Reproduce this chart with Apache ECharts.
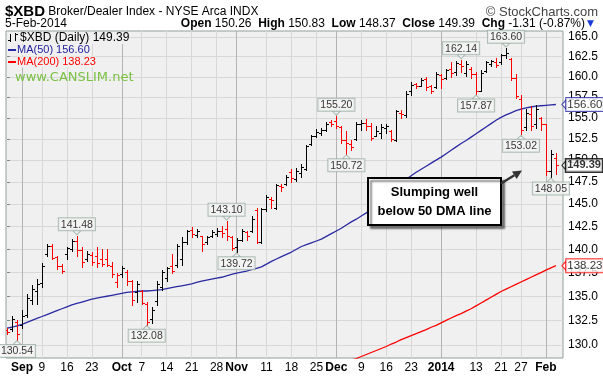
<!DOCTYPE html>
<html>
<head>
<meta charset="utf-8">
<script src="https://cdn.jsdelivr.net/npm/echarts@6/dist/echarts.min.js"></script>
<style>
  html, body { margin: 0; padding: 0; background: #fff; }
  #chart { width: 603px; height: 378px; }
</style>
</head>
<body>
<div id="chart"></div>
<script>
// daily OHLC, 28-Aug-2013 .. 5-Feb-2014 (one entry per trading day)
const opens = [
  131.5, 131.6, 132.3, 132.0, 133.1, 134.6, 135.6, 136.4, 139.5, 140.4,
  139.2, 138.2, 139.5, 140.0, 140.9, 139.9, 138.9, 139.4, 139.3, 139.0,
  139.0, 138.2, 136.5, 137.3, 137.6, 136.6, 135.4, 135.6, 134.2, 132.6,
  134.5, 136.0, 136.9, 138.2, 138.3, 139.0, 140.8, 142.1, 141.6, 141.4,
  140.8, 141.4, 141.7, 142.0, 142.2, 141.3, 140.2, 141.0, 141.9, 142.0,
  144.3, 140.8, 144.4, 145.6, 144.6, 147.0, 147.2, 148.6, 147.8, 148.5,
  149.0, 151.9, 152.8, 153.2, 153.6, 154.5, 154.6, 153.9, 152.3, 151.9,
  152.5, 154.3, 154.4, 154.0, 152.8, 153.2, 153.8, 153.4, 152.4, 155.6,
  155.3, 158.2, 159.1, 158.9, 159.7, 158.8, 158.7, 160.2, 159.8, 161.0,
  160.6, 161.6, 160.5, 161.0, 160.4, 158.3, 160.7, 161.6, 161.9, 161.8,
  162.7, 162.2, 159.8, 157.3, 153.9, 155.4, 154.2, 155.0, 154.2, 148.7,
  150.26
];
const highs = [
  131.7, 133.0, 132.5, 133.6, 135.2, 136.2, 136.8, 138.5, 140.6, 140.6,
  139.3, 138.4, 140.3, 141.1, 141.48, 140.3, 139.8, 139.7, 140.2, 140.0,
  140.0, 138.6, 137.5, 138.2, 137.8, 136.7, 136.6, 135.7, 134.4, 133.9,
  136.6, 137.8, 138.1, 139.5, 140.6, 141.3, 142.1, 142.4, 142.2, 141.5,
  141.5, 142.1, 142.3, 142.5, 143.10, 141.5, 141.2, 142.2, 142.0, 143.6,
  144.6, 144.6, 146.0, 145.8, 147.3, 147.3, 148.3, 149.0, 149.1, 149.6,
  151.8, 152.9, 153.7, 153.8, 154.5, 154.7, 155.20, 154.0, 153.4, 152.4,
  154.5, 154.7, 154.9, 154.4, 154.0, 154.3, 154.2, 153.5, 155.9, 155.9,
  158.2, 159.4, 159.2, 159.8, 160.0, 159.0, 160.6, 160.4, 161.0, 161.9,
  162.0, 162.14, 162.0, 161.2, 160.6, 160.8, 162.0, 162.1, 162.3, 162.9,
  163.60, 162.4, 160.4, 157.7, 156.0, 156.4, 156.5, 155.1, 154.3, 151.2,
  150.83
];
const lows = [
  131.1, 131.4, 130.54, 131.7, 132.8, 134.2, 134.2, 136.0, 139.3, 138.9,
  137.9, 137.4, 139.0, 139.8, 139.3, 138.1, 138.7, 138.3, 138.1, 138.2,
  138.2, 137.0, 136.0, 137.0, 136.2, 134.1, 134.4, 134.2, 132.08, 132.2,
  134.1, 135.7, 136.6, 137.4, 138.1, 138.3, 140.6, 141.3, 141.3, 139.8,
  140.6, 141.3, 141.5, 141.3, 141.0, 139.9, 139.72, 140.9, 141.0, 141.9,
  140.7, 140.7, 144.2, 144.5, 144.4, 146.5, 147.1, 147.5, 147.6, 148.0,
  148.9, 151.8, 152.7, 152.9, 153.4, 154.0, 153.8, 152.0, 150.72, 151.2,
  152.4, 153.5, 153.5, 152.4, 152.8, 152.6, 153.2, 152.2, 152.2, 155.0,
  155.1, 157.8, 158.6, 158.8, 158.4, 158.0, 158.6, 158.6, 159.7, 160.0,
  160.2, 160.6, 160.1, 159.9, 157.87, 158.2, 160.6, 161.3, 161.2, 161.6,
  162.3, 159.6, 157.4, 153.02, 153.6, 153.6, 153.8, 153.5, 148.3, 148.05,
  148.37
];
const closes = [
  131.3, 132.6, 131.1, 133.0, 134.8, 135.8, 136.3, 138.2, 140.4, 139.1,
  138.2, 137.7, 140.1, 140.9, 139.9, 138.6, 139.5, 138.6, 138.5, 138.4,
  138.3, 137.3, 137.2, 138.0, 136.6, 134.6, 136.3, 134.3, 132.3, 133.6,
  136.3, 137.6, 138.0, 137.7, 140.4, 140.8, 142.0, 141.7, 142.0, 140.6,
  141.3, 141.9, 142.0, 141.8, 141.4, 140.1, 141.0, 142.0, 141.5, 143.3,
  140.8, 144.4, 145.8, 145.4, 147.1, 146.9, 148.1, 147.9, 148.7, 149.2,
  151.7, 152.8, 153.3, 153.6, 154.3, 154.2, 154.0, 152.4, 152.0, 151.5,
  154.3, 154.4, 154.0, 152.6, 153.4, 153.9, 154.0, 152.5, 155.8, 155.4,
  157.9, 159.0, 158.9, 159.6, 158.7, 158.3, 160.4, 159.7, 160.8, 160.5,
  161.7, 161.3, 161.6, 160.3, 158.2, 160.5, 161.9, 162.0, 161.5, 162.7,
  163.0, 159.9, 157.6, 153.5, 155.6, 154.0, 156.0, 154.2, 148.8, 150.70,
  149.39
];
// moving averages
const ma50 = [
  131.7, 131.8, 131.95, 132.1, 132.3, 132.5, 132.7, 132.9, 133.1, 133.3,
  133.5, 133.7, 133.9, 134.1, 134.25, 134.4, 134.55, 134.7, 134.8, 134.9,
  135.0, 135.1, 135.2, 135.3, 135.4, 135.45, 135.5, 135.55, 135.55, 135.6,
  135.65, 135.7, 135.8, 135.9, 136.0, 136.1, 136.2, 136.3, 136.45, 136.6,
  136.7, 136.8, 136.9, 137.0, 137.15, 137.3, 137.45, 137.55, 137.65, 137.8,
  137.95, 138.1, 138.4, 138.7, 138.95, 139.2, 139.45, 139.7, 140.0, 140.3,
  140.5, 140.7, 140.9, 141.1, 141.4, 141.7, 142.0, 142.3, 142.65, 143.0,
  143.3, 143.65, 144.0, 144.4, 144.85, 145.3, 145.75, 146.2, 146.7, 147.2,
  147.8, 148.2, 148.6, 148.95, 149.3, 149.65, 150.0, 150.35, 150.75, 151.15,
  151.55, 151.95, 152.3, 152.7, 153.1, 153.5, 153.9, 154.3, 154.7, 155.05,
  155.35, 155.6, 155.85, 156.05, 156.2, 156.3, 156.4, 156.45, 156.5, 156.55,
  156.6
];
const ma200Start = 66; // first trading day where MA(200) is inside the price range
const ma200 = [
  127.9, 128.1, 128.3, 128.5, 128.65, 128.85, 129.05, 129.25, 129.45, 129.65,
  129.85, 130.1, 130.3, 130.55, 130.75, 130.95, 131.15, 131.35, 131.55, 131.8,
  132.0, 132.25, 132.5, 132.75, 133.0, 133.2, 133.45, 133.7, 134.0, 134.3,
  134.6, 134.9, 135.2, 135.5, 135.75, 136.0, 136.25, 136.5, 136.75, 137.0,
  137.25, 137.5, 137.75, 138.0, 138.23
];

// x axis: trading-day index of each labelled gridline and its label
const tickDays = [3, 7, 12, 17, 23, 27, 32, 37, 42, 46, 52, 57, 62, 66, 71, 76, 81, 87, 94, 99, 103, 108];
const tickNames = ['Sep', '9', '16', '23', 'Oct', '7', '14', '21', '28', 'Nov', '11', '18', '25', 'Dec', '9', '16', '23', '2014', '13', '21', '27', 'Feb'];
const monthNames = ['Sep', 'Oct', 'Nov', 'Dec', '2014', 'Feb'];
const priceTicks = [130, 132.5, 135, 137.5, 140, 142.5, 145, 147.5, 150, 152.5, 155, 157.5, 160, 162.5, 165];
const peakDays = [14, 44, 66, 91, 100];
const troughDays = [2, 28, 46, 68, 94, 103, 109];

const FONT = "'Liberation Sans', Arial, sans-serif";
const PLOT_BG = '#f0f0f0';
const lg = Math.log10;  // chart uses a log price scale
const last = closes.length - 1;

const bars = closes.map((c, i) => [
  i, lg(opens[i]), lg(highs[i]), lg(lows[i]), lg(c),
  c < (i ? closes[i - 1] : opens[i]) ? 1 : 0
]);

function renderOhlc(params, api) {
  const i = api.value(0);
  const pO = api.coord([i, api.value(1)]);
  const pH = api.coord([i, api.value(2)]);
  const pL = api.coord([i, api.value(3)]);
  const pC = api.coord([i, api.value(4)]);
  const x = Math.round(pH[0]) + 0.5;
  const yO = Math.round(pO[1]) + 0.5;
  const yC = Math.round(pC[1]) + 0.5;
  const col = api.value(5) ? '#ff0000' : '#000000';
  const st = () => ({ stroke: col, lineWidth: 1 });
  return {
    type: 'group',
    children: [
      { type: 'line', shape: { x1: x, y1: Math.round(pH[1]), x2: x, y2: Math.round(pL[1]) + 1 }, style: st() },
      { type: 'line', shape: { x1: x - 2.5, y1: yO, x2: x, y2: yO }, style: st() },
      { type: 'line', shape: { x1: x, y1: yC, x2: x + 2.5, y2: yC }, style: st() }
    ]
  };
}

const calloutLabel = {
  show: true,
  fontFamily: FONT, fontSize: 10.5, color: '#000',
  backgroundColor: '#f4f5f4', borderColor: '#9fb0a7', borderWidth: 1,
  padding: [1, 2, 0, 2], distance: 0,
  formatter: p => p.value[2].toFixed(2)
};
const calloutItem = { color: '#f4f5f4', borderColor: '#9fb0a7', borderWidth: 1 };

const chg = closes[last] - closes[last - 1];
const pct = chg / closes[last - 1] * 100;

// arrow of the annotation box
const arrowFrom = [501, 183.5], arrowTip = [522, 170.5];
const ax = arrowTip[0] - arrowFrom[0], ay = arrowTip[1] - arrowFrom[1];
const alen = Math.hypot(ax, ay), ux = ax / alen, uy = ay / alen;
const headBase = [arrowTip[0] - 9 * ux, arrowTip[1] - 9 * uy];

function legendText(x, y, text, fill, size) {
  return { type: 'text', x: x, y: y, z: 100, style: {
    text: text, font: size + 'px ' + FONT, fill: fill, backgroundColor: PLOT_BG,
    verticalAlign: 'middle', textVerticalAlign: 'middle' } };
}
function seg(x1, y1, x2, y2, color) {
  return { type: 'line', z: 100, shape: { x1, y1, x2, y2 }, style: { stroke: color, lineWidth: 1 } };
}

const chart = echarts.init(document.getElementById('chart'));
chart.setOption({
  animation: false,
  textStyle: { fontFamily: FONT },
  grid: {
    left: 6, right: 40, top: 31, bottom: 20,
    show: true, backgroundColor: PLOT_BG, borderColor: '#8fa096', borderWidth: 1
  },
  xAxis: {
    type: 'value', min: -0.2, max: 111.42,
    axisLine: { show: false },
    axisTick: { show: false, customValues: tickDays },
    axisLabel: {
      customValues: tickDays, margin: 4, color: '#000', fontSize: 12,
      formatter: v => {
        const s = tickNames[tickDays.indexOf(Math.round(v))];
        return monthNames.includes(s) ? '{m|' + s + '}' : s;
      },
      rich: { m: { fontWeight: 'bold', fontSize: 12, fontFamily: FONT } }
    },
    splitLine: {
      show: true,
      lineStyle: { width: 1, color: tickNames.map(s => monthNames.includes(s) ? '#b4b4b4' : '#d8d8d8') }
    }
  },
  yAxis: {
    type: 'value', position: 'right', scale: true,
    min: lg(128.7), max: lg(165.77),
    axisLine: { show: false },
    axisTick: { show: true, length: 3, customValues: priceTicks.map(lg), lineStyle: { color: '#7a8a82' } },
    axisLabel: {
      customValues: priceTicks.map(lg), margin: 5, color: '#000', fontSize: 12,
      formatter: v => Math.pow(10, v).toFixed(1)
    },
    splitLine: { show: true, lineStyle: { color: '#d8d8d8', width: 1 } }
  },
  series: [
    {
      name: 'MA(200)', type: 'line', showSymbol: false, z: 2,
      data: ma200.map((v, k) => [ma200Start + k, lg(v)]),
      lineStyle: { color: '#ff0000', width: 1.3 }
    },
    {
      name: 'MA(50)', type: 'line', showSymbol: false, z: 2,
      data: ma50.map((v, i) => [i, lg(v)]),
      lineStyle: { color: '#2a2aa2', width: 1.3 }
    },
    {
      name: '$XBD', type: 'custom', z: 3, clip: true,
      renderItem: renderOhlc,
      encode: { x: 0, y: [2, 3] },
      data: bars
    },
    {
      name: 'peaks', type: 'scatter', z: 4,
      symbol: 'triangle', symbolRotate: 180, symbolSize: [8, 4], symbolOffset: [0, -3],
      itemStyle: calloutItem,
      label: Object.assign({ position: 'top' }, calloutLabel),
      data: peakDays.map(i => [i, lg(highs[i]), highs[i]])
    },
    {
      name: 'troughs', type: 'scatter', z: 4,
      symbol: 'triangle', symbolSize: [8, 4], symbolOffset: [0, 3],
      itemStyle: calloutItem,
      label: Object.assign({ position: 'bottom' }, calloutLabel),
      data: troughDays.map(i => [i, lg(lows[i]), lows[i]])
    },
    {
      name: 'tags', type: 'scatter', z: 6,
      symbol: 'triangle', symbolRotate: 90, symbolSize: [9, 4], symbolOffset: [8, 0],
      label: {
        show: true, position: 'right', distance: 0,
        fontFamily: FONT, fontSize: 11.5, color: '#000', backgroundColor: '#fff',
        borderWidth: 1, padding: [1, 1, 0, 1],
        formatter: p => p.value[2].toFixed(2)
      },
      data: [
        { value: [last, lg(ma50[last]), ma50[last]], itemStyle: { color: '#fff', borderColor: '#2a2aa2', borderWidth: 1 }, label: { borderColor: '#2a2aa2' } },
        { value: [last, lg(closes[last]), closes[last]], itemStyle: { color: '#fff', borderColor: '#000', borderWidth: 1 }, label: { borderColor: '#000', borderWidth: 1.5, fontWeight: 'bold', fontSize: 11 } },
        { value: [last, lg(ma200[ma200.length - 1]), ma200[ma200.length - 1]], itemStyle: { color: '#fff', borderColor: '#ff0000', borderWidth: 1 }, label: { borderColor: '#ff0000' } }
      ]
    }
  ],
  graphic: [
    { type: 'text', x: 5, y: 12, style: {
      text: '{t|$XBD} Broker/Dealer Index - NYSE Arca INDX', font: '12px ' + FONT, fill: '#000',
      verticalAlign: 'middle', textVerticalAlign: 'middle',
      rich: { t: { font: 'bold 15px ' + FONT, fill: '#000' } } } },
    { type: 'text', x: 598, y: 12, style: {
      text: '\u00a9 StockCharts.com', font: '13px ' + FONT, fill: '#444',
      align: 'right', textAlign: 'right', verticalAlign: 'middle', textVerticalAlign: 'middle' } },
    { type: 'text', x: 5, y: 24, style: {
      text: '5-Feb-2014', font: '12px ' + FONT, fill: '#000',
      verticalAlign: 'middle', textVerticalAlign: 'middle' } },
    { type: 'text', x: 585, y: 24, style: {
      text: '{b|Open} ' + opens[last].toFixed(2) + '  {b|High} ' + highs[last].toFixed(2) +
            '  {b|Low} ' + lows[last].toFixed(2) + '  {b|Close} ' + closes[last].toFixed(2) +
            '  {b|Chg} ' + chg.toFixed(2) + ' (' + pct.toFixed(2) + '%)',
      font: '12px ' + FONT, fill: '#000',
      align: 'right', textAlign: 'right', verticalAlign: 'middle', textVerticalAlign: 'middle',
      rich: { b: { font: 'bold 12px ' + FONT, fill: '#000' } } } },
    { type: 'text', x: 587, y: 24, style: {
      text: '\u25bc', font: '9px DejaVu Sans', fill: '#1a3ad8',
      verticalAlign: 'middle', textVerticalAlign: 'middle' } },
    // in-plot legend
    { type: 'rect', z: 99, shape: { x: 7, y: 32, width: 100, height: 12 }, style: { fill: PLOT_BG } },
    seg(10.5, 34, 10.5, 42, '#000'),
    seg(8, 40.5, 10.5, 40.5, '#000'),
    seg(15.5, 33, 15.5, 41, '#000'),
    seg(15.5, 34.5, 18, 34.5, '#000'),
    legendText(20, 38, '$XBD (Daily) ' + closes[last].toFixed(2), '#000', 12),
    { type: 'rect', z: 100, shape: { x: 8, y: 49, width: 8, height: 2 }, style: { fill: '#2a2aa2' } },
    legendText(17, 50, 'MA(50) ' + ma50[last].toFixed(2), '#1c1c9c', 11),
    { type: 'rect', z: 100, shape: { x: 8, y: 61, width: 8, height: 2 }, style: { fill: '#ff0000' } },
    legendText(17, 62, 'MA(200) ' + ma200[ma200.length - 1].toFixed(2), '#ff0000', 11),
    { type: 'text', x: 15, y: 78, z: 100, style: { text: 'www.CANSLIM.net',
      font: '13px DejaVu Sans', fill: '#7ac143', verticalAlign: 'middle', textVerticalAlign: 'middle' } },
    // annotation
    { type: 'rect', z: 120, shape: { x: 368, y: 178, width: 133, height: 47 },
      style: { fill: '#fff', stroke: '#000', lineWidth: 2,
        shadowColor: 'rgba(0,0,0,0.45)', shadowOffsetX: 3, shadowOffsetY: 3, shadowBlur: 2 } },
    { type: 'text', z: 121, x: 434.5, y: 202, style: { text: 'Slumping well\nbelow 50 DMA line',
      font: 'bold 13px ' + FONT, fill: '#000', lineHeight: 19,
      align: 'center', textAlign: 'center', verticalAlign: 'middle', textVerticalAlign: 'middle' } },
    { type: 'line', z: 121, shape: { x1: arrowFrom[0], y1: arrowFrom[1], x2: headBase[0], y2: headBase[1] },
      style: { stroke: '#333', lineWidth: 2.5 } },
    { type: 'polygon', z: 121, shape: { points: [
        arrowTip,
        [headBase[0] + 4.5 * uy, headBase[1] - 4.5 * ux],
        [headBase[0] - 4.5 * uy, headBase[1] + 4.5 * ux]
      ] }, style: { fill: '#333' } }
  ]
});
</script>
</body>
</html>
